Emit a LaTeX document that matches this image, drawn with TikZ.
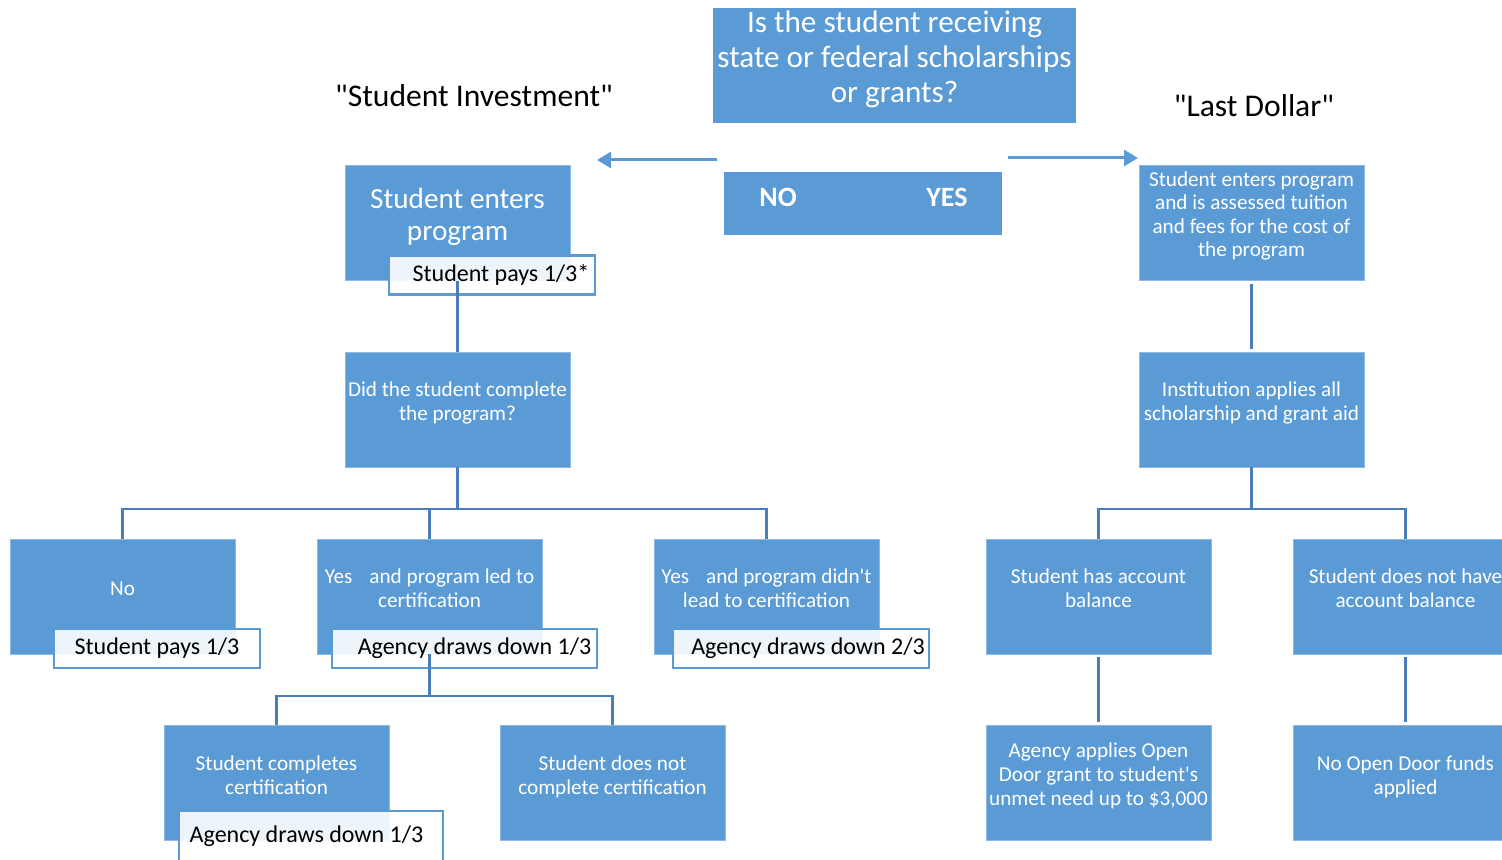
\documentclass[tikz,border=0pt]{standalone}
\usepackage{fontspec}
\setmainfont{Carlito}[Ligatures=TeXOff]
\usetikzlibrary{arrows.meta,calc}
\definecolor{boxblue}{HTML}{5B9BD5}
\definecolor{boxedge}{HTML}{8DB8E3}
\definecolor{linkblue}{HTML}{4A7EBB}
\tikzset{
  box/.style={fill=boxblue, draw=boxedge, line width=0.4pt, minimum width=112.5pt, minimum height=57.5pt, inner sep=0pt},
  boxtext/.style={text=white, align=center, font=\fontsize{10.6pt}{12pt}\selectfont, inner sep=0pt},
  bigtext/.style={text=white, align=center, font=\fontsize{14.6pt}{16pt}\selectfont, inner sep=0pt},
  overlay/.style={fill=white, fill opacity=0.9, text opacity=1, draw=boxblue, line width=1.2pt, minimum height=19.5pt, inner sep=0pt, font=\fontsize{12pt}{14pt}\selectfont, text=black},
  link/.style={draw=linkblue, line width=1.25pt},
  bigarrow/.style={draw=boxblue, line width=1.5pt, -{Triangle[length=7pt,width=8pt]}},
  titletext/.style={font=\fontsize{15.8pt}{18pt}\selectfont, text=black, inner sep=0pt}
}
\begin{document}
\begin{tikzpicture}[x=0.5pt,y=-0.5pt]
\useasboundingbox (0,0) rectangle (1502,860);

% top question
\node[fill=boxblue, minimum width=181.5pt, minimum height=57.5pt, inner sep=0pt] (q) at (894.5,65.5) {};
\node[text=white, align=center, font=\fontsize{15.6pt}{17.5pt}\selectfont, inner sep=0pt] (qt) at (894.5,59) {Is the student receiving\\state or federal scholarships\\or grants?};

\node[titletext] (si) at (474,96) {"Student Investment"};
\node[titletext] (ld) at (1254,106) {"Last Dollar"};

% NO / YES
\node[fill=boxblue, minimum width=139pt, minimum height=31.5pt, inner sep=0pt] (ny) at (863,203.5) {};
\node[text=white, font=\fontsize{14pt}{16pt}\selectfont\bfseries, inner sep=0pt] (no) at (778,197) {NO};
\node[text=white, font=\fontsize{14pt}{16pt}\selectfont\bfseries, inner sep=0pt] (yes) at (947,197) {YES};
\coordinate (al0) at (717,160);
\coordinate (al1) at (597,160);
\coordinate (ar0) at (1008,158);
\coordinate (ar1) at (1138,158);
\draw[bigarrow] (al0) -- (al1);
\draw[bigarrow] (ar0) -- (ar1);

% left column
\node[box] (enter) at (457.5,223) {};
\node[bigtext] (entert) at (457.5,217) {Student enters\\program};
\node[overlay, minimum width=103pt] (o1) at (492,275) {\hspace*{9pt}\raisebox{-1pt}{Student pays 1/3*}};

\node[box] (did) at (457.5,409.5) {};
\node[boxtext] (didt) at (457.5,403) {Did the student complete\\the program?};

\node[box] (nob) at (122.5,596.5) {};
\node[boxtext] (nobt) at (122.5,589) {No};
\node[overlay, minimum width=103pt] (o2) at (157,648.5) {\raisebox{-1pt}{Student pays 1/3}};

\node[box] (yb) at (429.5,596.5) {};
\node[boxtext] (ybt) at (429.5,588) {Yes\hspace{8.5pt}and program led to\\certification};
\node[overlay, minimum width=132.5pt] (o3) at (464.5,648.5) {\hspace*{10pt}\raisebox{-1pt}{Agency draws down 1/3}};

\node[box] (yb2) at (766.5,596.5) {};
\node[boxtext] (yb2t) at (766.5,588) {Yes\hspace{8.5pt}and program didn't\\lead to certification};
\node[overlay, minimum width=128pt] (o4) at (801,648.5) {\hspace*{7pt}\raisebox{-1pt}{Agency draws down 2/3}};

\node[box] (comp) at (276.5,783) {};
\node[boxtext] (compt) at (276.5,775) {Student completes\\certification};
\node[overlay, minimum width=132pt, minimum height=27pt] (o5) at (311,838) {};
\node[font=\fontsize{12pt}{14pt}\selectfont, inner sep=0pt] (o5t) at (306.5,836) {Agency draws down 1/3};

\node[box] (ncomp) at (612.5,783) {};
\node[boxtext] (ncompt) at (612.5,777) {Student does not\\complete certification};

% right column
\node[box] (renter) at (1251.5,223) {};
\node[boxtext, font=\fontsize{10.6pt}{11.6pt}\selectfont] (rentert) at (1251.5,216) {Student enters program\\and is assessed tuition\\and fees for the cost of\\the program};

\node[box] (inst) at (1251.5,409.5) {};
\node[boxtext] (instt) at (1251.5,403) {Institution applies all\\scholarship and grant aid};

\node[box] (bal) at (1098.5,596.5) {};
\node[boxtext] (balt) at (1098.5,588) {Student has account\\balance};

\node[box] (nbal) at (1405.5,596.5) {};
\node[boxtext] (nbalt) at (1405.5,588) {Student does not have\\account balance};

\node[box] (grant) at (1098.5,783) {};
\node[boxtext] (grantt) at (1098.5,776) {Agency applies Open\\Door grant to student's\\unmet need up to \$3,000};

\node[box] (nogrant) at (1405.5,783) {};
\node[boxtext] (nograntt) at (1405.5,777) {No Open Door funds\\applied};

% connectors left
\coordinate (j1) at (457.5,509);
\coordinate (j2) at (429.5,696);
\draw[link] (enter.south) -- (did.north);
\draw[link] (did.south) -- (j1);
\draw[link] (j1) -| (nob.north);
\draw[link] (j1) -| (yb.north);
\draw[link] (j1) -| (yb2.north);
\draw[link] (yb.south) -- (j2);
\draw[link] (j2) -| (comp.north);
\draw[link] (j2) -| (ncomp.north);

% connectors right
\coordinate (j3) at (1251.5,509);
\draw[link, shorten <=1.5pt, shorten >=1.5pt] (renter.south) -- (inst.north);
\draw[link] (inst.south) -- (j3);
\draw[link] (j3) -| (bal.north);
\draw[link] (j3) -| (nbal.north);
\draw[link, shorten <=1.5pt, shorten >=1.5pt] (bal.south) -- (grant.north);
\draw[link, shorten <=1.5pt, shorten >=1.5pt] (nbal.south) -- (nogrant.north);
\end{tikzpicture}
\end{document}
